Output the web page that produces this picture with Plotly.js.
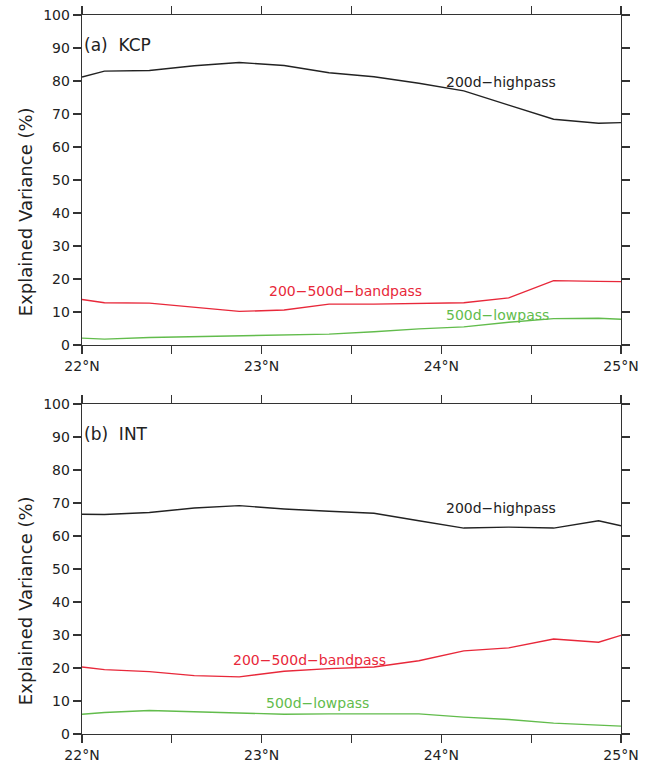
<!DOCTYPE html>
<html>
<head>
<meta charset="utf-8">
<script src="https://cdn.plot.ly/plotly-3.0.1.min.js"></script>
<style>html,body{margin:0;padding:0;background:#fff;}</style>
</head>
<body>
<div id="chart" style="width:650px;height:769px;"></div>
<script>
// Latitude grid (°N)
const lat = [22, 22.125, 22.375, 22.625, 22.875, 23.125, 23.375, 23.625, 23.875, 24.125, 24.375, 24.625, 24.875, 25];

// (a) KCP
const kcpHigh = [81.2, 83.0, 83.2, 84.6, 85.6, 84.7, 82.5, 81.3, 79.3, 77.0, 72.7, 68.4, 67.2, 67.4];
const kcpBand = [13.8, 12.8, 12.7, 11.4, 10.2, 10.6, 12.4, 12.4, 12.5, 12.8, 14.3, 19.5, 19.3, 19.2];
const kcpLow  = [2.1, 1.8, 2.3, 2.6, 2.8, 3.0, 3.3, 4.0, 4.9, 5.5, 6.9, 8.0, 8.1, 7.8];

// (b) INT
const intHigh = [66.6, 66.5, 67.1, 68.5, 69.2, 68.2, 67.5, 66.9, 64.6, 62.4, 62.7, 62.4, 64.6, 63.1];
const intBand = [20.3, 19.5, 18.9, 17.7, 17.3, 19.0, 19.8, 20.3, 22.2, 25.2, 26.1, 28.8, 27.8, 29.9];
const intLow  = [6.0, 6.5, 7.1, 6.7, 6.2, 6.0, 6.1, 6.1, 6.1, 5.1, 4.4, 3.3, 2.7, 2.4];

// Axis ticks
const xTickVals = [22, 22.5, 23, 23.5, 24, 24.5, 25];
const xTickText = ['22°N', '', '23°N', '', '24°N', '', '25°N'];
const yTickVals = [0, 10, 20, 30, 40, 50, 60, 70, 80, 90, 100];

// Labels
const panelLabels = ['(a)  KCP', '(b)  INT'];
const seriesNames = ['200d−highpass', '200−500d−bandpass', '500d−lowpass'];
const yTitle = 'Explained Variance (%)';

const cBlack = '#222222', cRed = '#e8283a', cGreen = '#62bc4c';
const font = 'DejaVu Sans, sans-serif';

function tr(y, color, xa, ya, name) {
  return {x: lat, y: y, type: 'scatter', mode: 'lines', name: name,
          line: {color: color, width: 1.4}, xaxis: xa, yaxis: ya, hoverinfo: 'skip'};
}

const data = [
  tr(kcpHigh, cBlack, 'x', 'y', seriesNames[0]),
  tr(kcpBand, cRed, 'x', 'y', seriesNames[1]),
  tr(kcpLow, cGreen, 'x', 'y', seriesNames[2]),
  tr(intHigh, cBlack, 'x2', 'y2', seriesNames[0]),
  tr(intBand, cRed, 'x2', 'y2', seriesNames[1]),
  tr(intLow, cGreen, 'x2', 'y2', seriesNames[2])
];

function xax(anchor) {
  return {anchor: anchor, range: [22, 25], tickvals: xTickVals, ticktext: xTickText,
          ticks: 'outside', ticklen: 8, tickwidth: 1.3, tickcolor: '#333',
          showline: true, linecolor: '#333', linewidth: 1.3, mirror: 'ticks',
          showgrid: false, zeroline: false,
          tickfont: {family: font, size: 14, color: '#222'}};
}
function yax(anchor, domain) {
  return {anchor: anchor, domain: domain, range: [0, 100], tickvals: yTickVals,
          ticks: 'outside', ticklen: 8, tickwidth: 1.3, tickcolor: '#333',
          showline: true, linecolor: '#333', linewidth: 1.3, mirror: 'ticks',
          showgrid: false, zeroline: false,
          tickfont: {family: font, size: 14, color: '#222'}};
}

function ann(x, y, text, color, xr, yr, size, xanchor) {
  return {x: x, y: y, xref: xr, yref: yr, text: text, showarrow: false,
          xanchor: xanchor || 'center', yanchor: 'middle',
          font: {family: font, size: size || 14, color: color}};
}
function titleAnn(y) {
  return {x: -0.106, y: y, xref: 'paper', yref: 'paper', text: yTitle, showarrow: false,
          textangle: -90, xanchor: 'center', yanchor: 'middle',
          font: {family: font, size: 18, color: '#222'}};
}

const layout = {
  width: 650, height: 769,
  margin: {l: 82, r: 29, t: 15, b: 35},
  paper_bgcolor: '#fff', plot_bgcolor: '#fff',
  showlegend: false,
  xaxis: xax('y'),
  yaxis: yax('x', [0.5410, 1]),
  xaxis2: xax('y2'),
  yaxis2: yax('x2', [0, 0.4590]),
  annotations: [
    titleAnn(0.727),
    titleAnn(0.186),
    ann(22.0, 91, panelLabels[0], '#222', 'x', 'y', 17, 'left'),
    ann(24.33, 79.6, seriesNames[0], '#222', 'x', 'y'),
    ann(23.464, 16.3, seriesNames[1], cRed, 'x', 'y'),
    ann(24.31, 9.1, seriesNames[2], cGreen, 'x', 'y'),
    ann(22.0, 91, panelLabels[1], '#222', 'x2', 'y2', 17, 'left'),
    ann(24.33, 68.5, seriesNames[0], '#222', 'x2', 'y2'),
    ann(23.264, 22.5, seriesNames[1], cRed, 'x2', 'y2'),
    ann(23.31, 9.3, seriesNames[2], cGreen, 'x2', 'y2')
  ]
};

Plotly.newPlot('chart', data, layout, {displayModeBar: false, staticPlot: true});
</script>
</body>
</html>
